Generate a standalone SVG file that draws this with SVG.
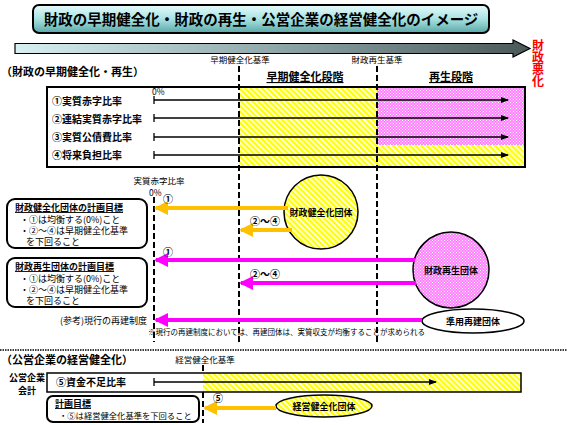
<svg xmlns="http://www.w3.org/2000/svg" width="567" height="425" viewBox="0 0 567 425">
<style>
text{font-family:"Noto Sans CJK JP","Noto Sans CJK SC",sans-serif;font-weight:bold;fill:#000}
.t9{font-size:9px}
.t10{font-size:10px}
.t11{font-size:11px}
.n{font-weight:normal}
.small{font-size:8.5px;font-weight:normal}
.note{font-size:7.5px;font-weight:normal}
.dash{stroke:#000;stroke-width:2;stroke-dasharray:6,3;fill:none}
.ya{stroke:#ffc000;stroke-width:4;fill:none;marker-end:url(#ah-y)}
.ma{stroke:#ff00ff;stroke-width:4;fill:none;marker-end:url(#ah-m)}
.ba{stroke:#000;stroke-width:1.3;fill:none;marker-end:url(#ah-b)}
.tick{stroke:#000;stroke-width:1.3}
</style>
<defs>
<linearGradient id="gTitle" x1="0" y1="0" x2="0" y2="1">
<stop offset="0" stop-color="#e8fbfb"/><stop offset="0.5" stop-color="#a8e2e2"/><stop offset="1" stop-color="#5aa7a7"/>
</linearGradient>
<linearGradient id="gArrow" x1="0" y1="0" x2="1" y2="0">
<stop offset="0" stop-color="#d9f0f2"/><stop offset="0.5" stop-color="#90a8aa"/><stop offset="1" stop-color="#4a5858"/>
</linearGradient>
<pattern id="pY" patternUnits="userSpaceOnUse" width="4" height="4" patternTransform="rotate(-45)">
<rect width="4" height="4" fill="#ffff00"/><rect width="1.6" height="4" fill="#fff"/>
</pattern>
<pattern id="pM" patternUnits="userSpaceOnUse" width="3" height="3">
<rect width="3" height="3" fill="#ff80ff"/><rect x="0" y="0" width="1" height="1" fill="#fff"/><rect x="1.5" y="1.5" width="1" height="1" fill="#fff"/>
</pattern>
<marker id="ah-y" markerUnits="userSpaceOnUse" markerWidth="14" markerHeight="14" refX="12" refY="7" orient="auto"><path d="M0,0 L14,7 L0,14 z" fill="#ffc000"/></marker>
<marker id="ah-m" markerUnits="userSpaceOnUse" markerWidth="14" markerHeight="14" refX="12" refY="7" orient="auto"><path d="M0,0 L14,7 L0,14 z" fill="#ff00ff"/></marker>
<marker id="ah-b" markerUnits="userSpaceOnUse" markerWidth="8" markerHeight="8" refX="7" refY="4" orient="auto"><path d="M0,1 L8,4 L0,7 z" fill="#000"/></marker>
</defs>

<g id="title">
<rect x="33" y="5" width="456" height="28" rx="6" fill="url(#gTitle)" stroke="#000" stroke-width="2"/>
<text x="261" y="25" font-size="14.5" text-anchor="middle">財政の早期健全化・財政の再生・公営企業の経営健全化のイメージ</text>
</g>

<g id="scale-arrow">
<path d="M15,43.5 L513,43.5 L513,40 L530,48.5 L513,57 L513,53.5 L15,53.5 z" fill="url(#gArrow)" stroke="#000" stroke-width="1.2"/>
<text x="538" y="39" font-size="12" style="fill:#ff0000;writing-mode:vertical-rl">財政悪化</text>
</g>

<g id="section1-labels">
<text class="t11" x="1" y="76">（財政の早期健全化・再生）</text>
<text class="small" x="240" y="63" text-anchor="middle">早期健全化基準</text>
<text class="small" x="377" y="63" text-anchor="middle">財政再生基準</text>
<text class="t11" x="305" y="81" text-anchor="middle" text-decoration="underline">早期健全化段階</text>
<text class="t11" x="451" y="81" text-anchor="middle" text-decoration="underline">再生段階</text>
</g>

<g id="indicator-box">
<rect x="47" y="87" width="478" height="80" fill="#fff"/>
<rect x="239" y="87" width="286" height="80" fill="url(#pY)"/>
<rect x="377" y="87" width="148" height="58" fill="url(#pM)"/>
<rect x="47" y="87" width="478" height="80" fill="none" stroke="#000" stroke-width="2"/>
<text class="small" x="152" y="95">0%</text>
<text class="t10" x="52" y="105">①実質赤字比率</text>
<text class="t10" x="52" y="123">②連結実質赤字比率</text>
<text class="t10" x="52" y="141">③実質公債費比率</text>
<text class="t10" x="52" y="159">④将来負担比率</text>
</g>

<g id="dashed-lines">
<line class="dash" x1="239" y1="66" x2="239" y2="345"/>
<line class="dash" x1="377" y1="66" x2="377" y2="342"/>
<line class="dash" x1="154" y1="197" x2="154" y2="342"/>
<line class="dash" x1="203" y1="365" x2="203" y2="423"/>
</g>

<g id="goal-box-1">
<rect x="7" y="199" width="140" height="49" rx="8" fill="#fff" stroke="#000" stroke-width="2"/>
<text class="t9" x="15" y="211" text-decoration="underline">財政健全化団体の計画目標</text>
<text class="t9 n" x="20" y="223">・①は均衡する(0%)こと<tspan x="20" dy="11">・②～④は早期健全化基準</tspan><tspan x="26" dy="11">を下回ること</tspan></text>
</g>

<g id="goal-box-2">
<rect x="7" y="258" width="140" height="49" rx="8" fill="#fff" stroke="#000" stroke-width="2"/>
<text class="t9" x="15" y="270" text-decoration="underline">財政再生団体の計画目標</text>
<text class="t9 n" x="20" y="282">・①は均衡する(0%)こと<tspan x="20" dy="11">・②～④は早期健全化基準</tspan><tspan x="26" dy="11">を下回ること</tspan></text>
</g>

<g id="kenzenka-dantai">
<circle cx="321" cy="212" r="37" fill="url(#pY)" stroke="#000" stroke-width="1.5"/>
<text class="t9" x="321" y="215.5" text-anchor="middle">財政健全化団体</text>
</g>

<g id="saisei-dantai">
<circle cx="451" cy="270" r="38" fill="url(#pM)" stroke="#000" stroke-width="1.5"/>
<text class="t9" x="451" y="273.5" text-anchor="middle">財政再生団体</text>
</g>

<g id="junyo-saiken">
<ellipse cx="473" cy="321" rx="51" ry="12" fill="#fff" stroke="#000" stroke-width="1.5"/>
<text class="t9" x="473" y="324.5" text-anchor="middle">準用再建団体</text>
</g>

<g id="section2-labels">
<text class="small" x="159" y="184" text-anchor="middle">実質赤字比率</text>
<text class="small" x="149" y="196">0%</text>
<text class="t9 n" x="147" y="324" text-anchor="end">(参考)現行の再建制度</text>
<text class="note" x="148" y="335">※現行の再建制度においては、再建団体は、実質収支が均衡することが求められる</text>
</g>

<line id="separator" x1="0" y1="350" x2="567" y2="350" stroke="#000" stroke-width="1.5" stroke-dasharray="1.5,1"/>

<g id="section3">
<text class="t11" x="1" y="364">（公営企業の経営健全化）</text>
<text class="small" x="205" y="363" text-anchor="middle">経営健全化基準</text>
<rect x="47" y="373" width="156" height="19" fill="#fff"/>
<rect x="203" y="373" width="318" height="19" fill="url(#pY)"/>
<rect x="47" y="373" width="474" height="19" fill="none" stroke="#000" stroke-width="1.5"/>
<text class="t9" x="27" y="381" text-anchor="middle">公営企業<tspan x="27" dy="13">会計</tspan></text>
<text class="t10" x="56" y="386">⑤資金不足比率</text>
</g>

<g id="goal-box-3">
<rect x="47" y="396" width="152" height="26" rx="6" fill="#fff" stroke="#000" stroke-width="2"/>
<text class="t9" x="55" y="407" text-decoration="underline">計画目標</text>
<text class="n" x="59" y="419" font-size="8.3">・⑤は経営健全化基準を下回ること</text>
</g>

<g id="keiei-dantai">
<ellipse cx="324" cy="406" rx="48" ry="11" fill="url(#pY)" stroke="#000" stroke-width="1.5"/>
<text class="t9" x="324" y="409.5" text-anchor="middle">経営健全化団体</text>
</g>

<g id="connectors">
<line class="tick" x1="154" y1="96" x2="154" y2="104"/>
<line class="ba" x1="154" y1="100" x2="508" y2="100"/>
<line class="tick" x1="154" y1="114" x2="154" y2="122"/>
<line class="ba" x1="154" y1="118" x2="508" y2="118"/>
<line class="tick" x1="154" y1="133" x2="154" y2="141"/>
<line class="ba" x1="154" y1="137" x2="508" y2="137"/>
<line class="tick" x1="154" y1="151" x2="154" y2="159"/>
<line class="ba" x1="154" y1="155" x2="508" y2="155"/>
<line class="tick" x1="154" y1="378" x2="154" y2="386"/>
<line class="ba" x1="154" y1="382" x2="436" y2="382"/>

<line class="ya" x1="288" y1="208" x2="156" y2="208"/>
<line class="ya" x1="292" y1="230" x2="241" y2="230"/>
<line class="ma" x1="415" y1="260" x2="156" y2="260"/>
<line class="ma" x1="416" y1="283" x2="241" y2="283"/>
<line class="ma" x1="422" y1="320" x2="156" y2="320"/>
<line class="ya" x1="276" y1="408" x2="205" y2="408"/>

<text class="t10" x="163" y="203">①</text>
<text class="t10" x="250" y="225">②～④</text>
<text class="t10" x="163" y="256">①</text>
<text class="t10" x="250" y="278">②～④</text>
<text class="t10" x="213" y="402">⑤</text>
</g>
</svg>
